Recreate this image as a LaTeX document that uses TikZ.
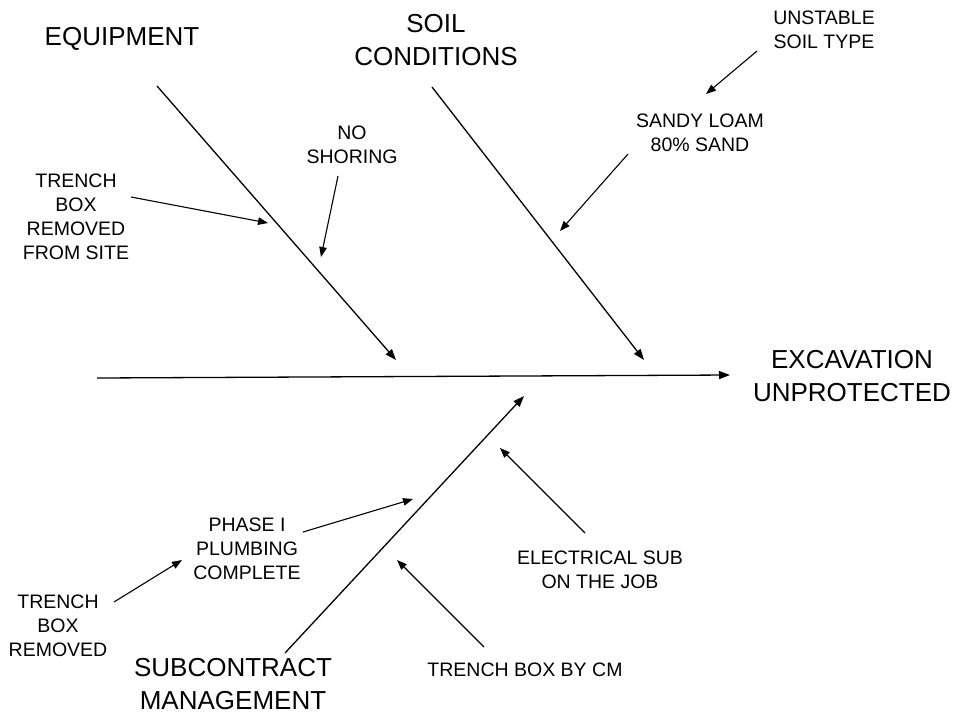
\documentclass[tikz,border=0pt]{standalone}
\usepackage{fontspec}
\setmainfont{Liberation Sans}
\usetikzlibrary{arrows.meta}
\begin{document}
\begin{tikzpicture}[x=1pt,y=-1pt,
  bone/.style={line width=1.3pt},
  cause/.style={line width=1.1pt,-{Triangle[length=10pt,width=7.5pt]}},
  big/.style={inner sep=0pt,align=center,font=\fontsize{26}{33.5}\selectfont},
  small/.style={inner sep=0pt,align=center,font=\fontsize{19.5}{24}\selectfont}]
\useasboundingbox (0,0) rectangle (953,713);

% main labels
\node[big] (equip) at (122,39) {EQUIPMENT};
\node[big] (soil) at (436,40) {SOIL\\CONDITIONS};
\node[big] (effect) at (852,376) {EXCAVATION\\UNPROTECTED};
\node[big] (sub) at (233,684) {SUBCONTRACT\\MANAGEMENT};

% cause labels
\node[small] (tbsite) at (76,217) {TRENCH\\BOX\\REMOVED\\FROM SITE};
\node[small] (noshor) at (352,145) {NO\\SHORING};
\node[small] (unstable) at (824,30) {UNSTABLE\\SOIL TYPE};
\node[small] (sandy) at (700,133) {SANDY LOAM\\80\% SAND};
\node[small] (elec) at (600,570) {ELECTRICAL SUB\\ON THE JOB};
\node[small] (tbcm) at (525,670) {TRENCH BOX BY CM};
\node[small] (phase) at (247,549) {PHASE I\\PLUMBING\\COMPLETE};
\node[small] (tbrem) at (58,626) {TRENCH\\BOX\\REMOVED};

% spine and bones
\coordinate (spineS) at (97,378);
\coordinate (spineE) at (730,375);
\coordinate (eqS) at (157,86);
\coordinate (eqE) at (396,360);
\coordinate (soS) at (432,87);
\coordinate (soE) at (644,360);
\coordinate (suS) at (285,653);
\coordinate (suE) at (524,396);

\draw[bone,-{Triangle[length=11pt,width=8pt]}] (spineS) -- (spineE);
\draw[bone,-{Triangle[length=11pt,width=8pt]}] (eqS) -- (eqE);
\draw[bone,-{Triangle[length=11pt,width=8pt]}] (soS) -- (soE);
\draw[bone,-{Triangle[length=11pt,width=8pt]}] (suS) -- (suE);

% cause arrows
\coordinate (a1s) at (131,197); \coordinate (a1e) at (268,223);
\coordinate (a2s) at (338,176); \coordinate (a2e) at (321,257);
\coordinate (a3s) at (757,51);  \coordinate (a3e) at (706,94);
\coordinate (a4s) at (628,154); \coordinate (a4e) at (560,231);
\coordinate (a5s) at (585,533); \coordinate (a5e) at (500,448);
\coordinate (a6s) at (484,647); \coordinate (a6e) at (397,560);
\coordinate (a7s) at (303,532); \coordinate (a7e) at (413,499);
\coordinate (a8s) at (114,602); \coordinate (a8e) at (182,560);

\draw[cause] (a1s) -- (a1e);
\draw[cause] (a2s) -- (a2e);
\draw[cause] (a3s) -- (a3e);
\draw[cause] (a4s) -- (a4e);
\draw[cause] (a5s) -- (a5e);
\draw[cause] (a6s) -- (a6e);
\draw[cause] (a7s) -- (a7e);
\draw[cause] (a8s) -- (a8e);
\end{tikzpicture}
\end{document}
